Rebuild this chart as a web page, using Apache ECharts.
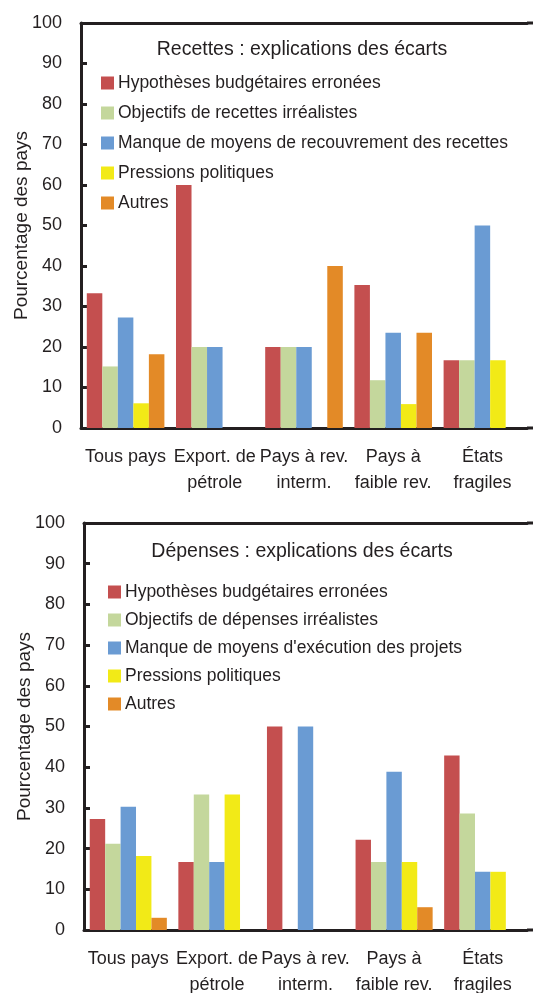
<!DOCTYPE html>
<html><head><meta charset="utf-8">
<script src="https://cdn.jsdelivr.net/npm/echarts@6/dist/echarts.min.js"></script>
<style>html,body{margin:0;padding:0;background:#fff}#c{width:533px;height:993px}</style>
</head><body><div id="c"></div>
<script>
const categories = ['Tous pays', 'Export. de\npétrole', 'Pays à rev.\ninterm.', 'Pays à\nfaible rev.', 'États\nfragiles'];
const yTicks = [0, 10, 20, 30, 40, 50, 60, 70, 80, 90, 100];

const titleRev = 'Recettes : explications des écarts';
const namesRev = ['Hypothèses budgétaires erronées', 'Objectifs de recettes irréalistes', 'Manque de moyens de recouvrement des recettes', 'Pressions politiques', 'Autres'];
const revHypotheses = [33.3, 60, 20, 35.3, 16.7];
const revObjectifs = [15.2, 20, 20, 11.8, 16.7];
const revManque = [27.3, 20, 20, 23.5, 50];
const revPressions = [6.1, 0, 0, 5.9, 16.7];
const revAutres = [18.2, 0, 40, 23.5, 0];

const titleDep = 'Dépenses : explications des écarts';
const namesDep = ['Hypothèses budgétaires erronées', 'Objectifs de dépenses irréalistes', "Manque de moyens d'exécution des projets", 'Pressions politiques', 'Autres'];
const depHypotheses = [27.3, 16.7, 50, 22.2, 42.9];
const depObjectifs = [21.2, 33.3, 0, 16.7, 28.6];
const depManque = [30.3, 16.7, 50, 38.9, 14.3];
const depPressions = [18.2, 33.3, 0, 16.7, 14.3];
const depAutres = [3.0, 0, 0, 5.6, 0];

const yAxisName = 'Pourcentage des pays';
const colors = ['#C44F4F', '#C4D79C', '#6A9BD3', '#F2EA17', '#E38A27'];
const FONT = '"Liberation Sans", Arial, sans-serif';
const TXT = '#231F20';

const revData = [revHypotheses, revObjectifs, revManque, revPressions, revAutres];
const depData = [depHypotheses, depObjectifs, depManque, depPressions, depAutres];

const grids = [
  {left: 81, top: 23, width: 446, height: 405, outerBoundsMode: 'none', containLabel: false},
  {left: 84, top: 523, width: 443, height: 407, outerBoundsMode: 'none', containLabel: false}
];

function xAxes(gi) {
  return [{
    type: 'category', gridIndex: gi, data: categories,
    axisLine: {lineStyle: {color: TXT, width: 3}},
    axisTick: {inside: true, length: 6, lineStyle: {color: TXT, width: 3}},
    axisLabel: {color: TXT, fontSize: 18, fontFamily: FONT, lineHeight: 26, margin: 16, interval: 0}
  }, {
    type: 'category', gridIndex: gi, position: 'top', data: categories,
    axisLine: {lineStyle: {color: TXT, width: 3}},
    axisTick: {show: false}, axisLabel: {show: false}
  }];
}
function yAxis(gi) {
  return {
    type: 'value', gridIndex: gi, min: 0, max: 100, interval: 10,
    name: yAxisName, nameLocation: 'middle', nameRotate: 90, nameGap: 50, nameMoveOverlap: false,
    nameTextStyle: {color: TXT, fontSize: 19, fontFamily: FONT},
    axisLine: {show: true, lineStyle: {color: TXT, width: 3}},
    axisTick: {show: true, inside: true, length: 6, lineStyle: {color: TXT, width: 3}},
    axisLabel: {color: TXT, fontSize: 18, fontFamily: FONT, margin: 19,
      formatter: v => yTicks.includes(v) ? String(v) : ''},
    splitLine: {show: false}
  };
}

const series = [];
[[revData, namesRev], [depData, namesDep]].forEach(([data, names], gi) => {
  data.forEach((arr, i) => {
    series.push({
      type: 'bar', name: names[i], xAxisIndex: gi * 2, yAxisIndex: gi,
      data: arr, barGap: 0, barCategoryGap: '13%',
      itemStyle: {color: colors[i]},
      emphasis: {disabled: true}
    });
  });
});

const legendBase = {orient: 'vertical', padding: 0, itemWidth: 13, itemHeight: 13, icon: 'rect',
  itemStyle: {borderWidth: 0},
  textStyle: {color: TXT, fontSize: 17.5, fontFamily: FONT, lineHeight: 20, padding: [0, 0, 0, -1]}};

// frame lines continue past the plot to the page edge, as in the source
const frameExt = [];
grids.forEach(g => {
  [g.top, g.top + g.height].forEach(y => {
    frameExt.push({type: 'line', silent: true,
      shape: {x1: g.left + g.width, y1: y, x2: 533, y2: y},
      style: {stroke: TXT, lineWidth: 3}});
  });
});

const option = {
  animation: false,
  color: colors,
  title: [
    {text: titleRev, left: 297, top: 35, textAlign: 'center',
      textStyle: {color: TXT, fontSize: 19.5, fontWeight: 'normal', fontFamily: FONT}},
    {text: titleDep, left: 297, top: 537, textAlign: 'center',
      textStyle: {color: TXT, fontSize: 19.5, fontWeight: 'normal', fontFamily: FONT}}
  ],
  legend: [
    Object.assign({}, legendBase, {left: 101, top: 73, itemGap: 10, data: namesRev}),
    Object.assign({}, legendBase, {left: 108, top: 582, itemGap: 8, data: namesDep})
  ],
  grid: grids,
  xAxis: [...xAxes(0), ...xAxes(1)],
  yAxis: [yAxis(0), yAxis(1)],
  graphic: frameExt,
  series: series
};
const chart = echarts.init(document.getElementById('c'), null, {renderer: 'canvas'});
chart.setOption(option);
</script></body></html>
